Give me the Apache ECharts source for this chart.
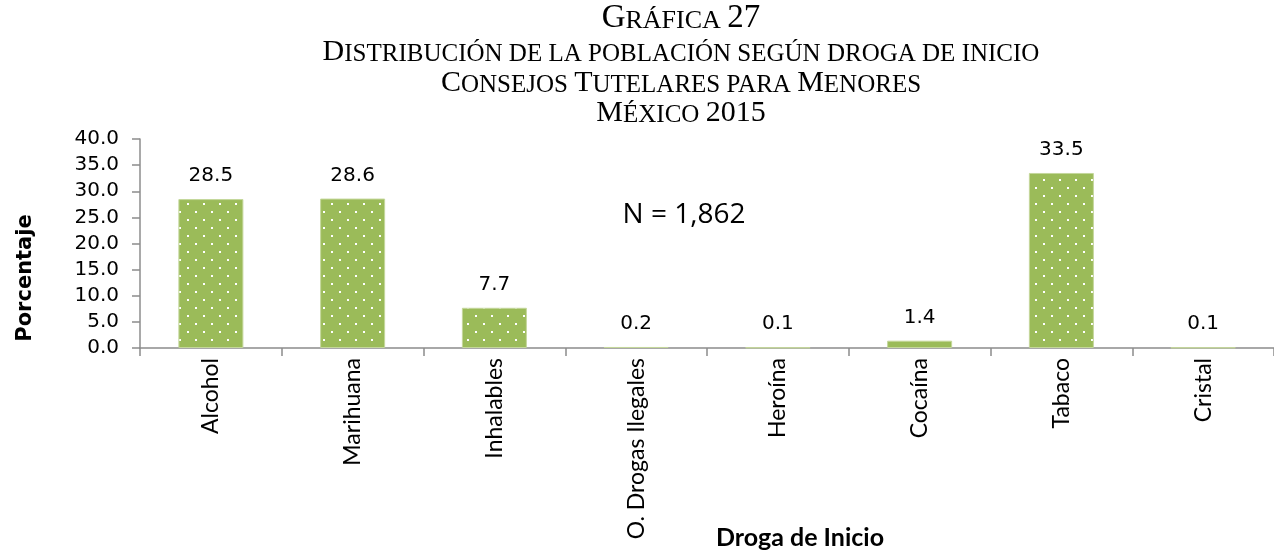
<!DOCTYPE html>
<html>
<head>
<meta charset="utf-8">
<script src="https://cdn.jsdelivr.net/npm/echarts@6/dist/echarts.min.js"></script>
<style>
html,body{margin:0;padding:0;background:#fff;}
#chart{width:1274px;height:550px;}
</style>
</head>
<body>
<div id="chart"></div>
<script>
// ---- data ----
const categories = ['Alcohol', 'Marihuana', 'Inhalables', 'O. Drogas Ilegales', 'Heroína', 'Cocaína', 'Tabaco', 'Cristal'];
const values = [28.5, 28.6, 7.7, 0.2, 0.1, 1.4, 33.5, 0.1];
const yTicks = [0, 5, 10, 15, 20, 25, 30, 35, 40];
const titleLines = ['Gráfica 27', 'Distribución de la población según droga de inicio', 'Consejos Tutelares para Menores', 'México 2015'];
const yName = 'Porcentaje';
const xName = 'Droga de Inicio';
const note = 'N = 1,862';

// ---- dotted pattern ----
function makePattern() {
  const c = document.createElement('canvas');
  c.width = 16; c.height = 16;
  const g = c.getContext('2d');
  g.fillStyle = '#9bbb59';
  g.fillRect(0, 0, 16, 16);
  g.fillStyle = '#ffffff';
  g.fillRect(3, 3, 2, 2);
  g.fillRect(11, 11, 2, 2);
  return c;
}

// ---- small caps via rich text ----
function smallCaps(str, big, small) {
  let out = '';
  let run = '', runType = null;
  const flush = () => { if (run) out += '{' + (runType === 'b' ? big : small) + '|' + run + '}'; run = ''; };
  for (const ch of str) {
    let t, c;
    if (ch === ' ') { t = runType || 'b'; c = ch; }
    else if (ch !== ch.toLowerCase() || /[0-9]/.test(ch)) { t = 'b'; c = ch; }
    else { t = 's'; c = ch.toUpperCase(); }
    if (t !== runType) { flush(); runType = t; }
    run += c;
  }
  flush();
  return out;
}

const serif = '"Liberation Serif", serif';
const rich = {
  b1: { fontFamily: serif, fontSize: 33, color: '#000', verticalAlign: 'bottom' },
  s1: { fontFamily: serif, fontSize: 26, color: '#000', verticalAlign: 'bottom' },
  b2: { fontFamily: serif, fontSize: 30, color: '#000', verticalAlign: 'bottom' },
  s2: { fontFamily: serif, fontSize: 25, color: '#000', verticalAlign: 'bottom' }
};
const titleY = [18, 52, 83, 113];
const titleGraphics = titleLines.map((t, i) => ({
  type: 'text',
  x: 681, y: titleY[i],
  style: {
    text: i === 0 ? smallCaps(t, 'b1', 's1') : smallCaps(t, 'b2', 's2'),
    rich: rich,
    align: 'center', verticalAlign: 'middle'
  }
}));

const chart = echarts.init(document.getElementById('chart'), null, { renderer: 'canvas' });
chart.setOption({
  animation: false,
  backgroundColor: '#ffffff',
  grid: { left: 140, right: -7, top: 139, bottom: 202, containLabel: false },
  xAxis: {
    type: 'category',
    data: categories,
    axisLine: { lineStyle: { color: '#8c8c8c', width: 1.5 } },
    axisTick: { show: true, length: 8, lineStyle: { color: '#8c8c8c', width: 1.5 } },
    axisLabel: { rotate: 90, margin: 10, fontFamily: 'Lato', fontSize: 23, color: '#000' }
  },
  yAxis: {
    type: 'value',
    min: 0, max: 40, interval: 5,
    splitLine: { show: false },
    axisLine: { show: true, lineStyle: { color: '#8c8c8c', width: 1.5 } },
    axisTick: { show: true, length: 8, lineStyle: { color: '#8c8c8c', width: 1.5 } },
    axisLabel: { margin: 21, fontFamily: '"DejaVu Sans"', fontSize: 20, color: '#000',
      formatter: v => yTicks.indexOf(v) >= 0 ? v.toFixed(1) : '' }
  },
  series: [{
    type: 'bar',
    data: values,
    barWidth: 65,
    itemStyle: { color: { image: makePattern(), repeat: 'repeat' }, borderColor: '#c4d79b', borderWidth: 1 },
    label: { show: true, position: 'top', distance: 13, fontFamily: '"DejaVu Sans"', fontSize: 20, color: '#000',
      formatter: p => p.value.toFixed(1) }
  }],
  graphic: titleGraphics.concat([
    { type: 'text', x: 26, y: 278, rotation: Math.PI / 2,
      style: { text: yName, font: 'bold 21px "DejaVu Sans"', fill: '#000', align: 'center', verticalAlign: 'middle' } },
    { type: 'text', x: 800, y: 538,
      style: { text: xName, font: 'bold 25px Lato', fill: '#000', align: 'center', verticalAlign: 'middle' } },
    { type: 'text', x: 684, y: 215,
      style: { text: note, font: '28px "Open Sans"', fill: '#000', align: 'center', verticalAlign: 'middle' } }
  ])
});
</script>
</body>
</html>
